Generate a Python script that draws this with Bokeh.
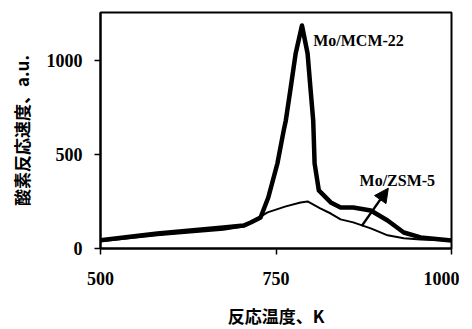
from bokeh.plotting import figure
from bokeh.models import Range1d, FixedTicker, Label, Arrow, NormalHead
from bokeh.embed import file_html
from bokeh.resources import INLINE

# Mo/MCM-22 (thick curve)
mcm_T = [500, 581, 675, 704, 714, 728, 739, 752, 761, 764, 771, 778, 787,
         795, 799, 803, 805, 811, 828, 842, 860, 885, 909, 932, 956, 1000]
mcm_V = [44, 80, 112, 122, 138, 165, 271, 452, 628, 681, 857, 1037, 1186,
         1037, 857, 681, 452, 309, 245, 218, 218, 202, 149, 85, 59, 43]

# Mo/ZSM-5 (thin curve)
zsm_T = [500, 581, 675, 704, 721, 738, 764, 785, 795, 813, 828, 842, 860,
         885, 909, 932, 956, 1000]
zsm_V = [38, 70, 100, 117, 154, 192, 224, 245, 250, 213, 186, 155, 139,
         107, 70, 54, 48, 43]

x_ticks = [500, 750, 1000]
y_ticks = [0, 500, 1000]
arrow_from = (872, 119)
arrow_to = (910, 321)

SERIF = "Liberation Serif"
CJK = "Noto Sans CJK JP"

p = figure(frame_width=351, frame_height=236, output_backend="svg", toolbar_location=None,
           x_range=Range1d(500, 1000), y_range=Range1d(0, 1255),
           min_border_left=100, min_border_right=8, min_border_top=12,
           min_border_bottom=72)

p.line(mcm_T, mcm_V, line_color="black", line_width=4.5, line_join="round")
p.line(zsm_T, zsm_V, line_color="black", line_width=2, line_join="round")

p.grid.visible = False
p.outline_line_color = "black"
p.outline_line_width = 2
p.background_fill_color = "white"
p.border_fill_color = "white"

for ax in (p.xaxis[0], p.yaxis[0]):
    ax.axis_line_color = "black"
    ax.axis_line_width = 2
    ax.major_tick_line_color = "black"
    ax.major_tick_line_width = 1.5
    ax.major_tick_in = 0
    ax.major_tick_out = 6
    ax.minor_tick_line_color = None
    ax.major_label_text_font = SERIF
    ax.major_label_text_font_style = "bold"
    ax.major_label_text_font_size = "18px"
    ax.major_label_text_color = "black"
    ax.axis_label_text_font = CJK
    ax.axis_label_text_font_style = "bold"
    ax.axis_label_text_font_size = "17px"
    ax.axis_label_text_color = "black"

p.xaxis.ticker = FixedTicker(ticks=x_ticks)
p.yaxis.ticker = FixedTicker(ticks=y_ticks)
p.xaxis.major_label_standoff = 17
p.yaxis.major_label_standoff = 12
p.xaxis.axis_label = "反応温度、K"
p.yaxis.axis_label = "酸素反応速度、a.u."
p.xaxis.axis_label_standoff = 15
p.yaxis.axis_label_standoff = 10

p.add_layout(Label(x=803, y=1106, text="Mo/MCM-22", text_font=SERIF,
                   text_font_style="bold", text_font_size="16px",
                   text_baseline="middle", text_align="left", text_color="black"))
p.add_layout(Label(x=869, y=362, text="Mo/ZSM-5", text_font=SERIF,
                   text_font_style="bold", text_font_size="16px",
                   text_baseline="middle", text_align="left", text_color="black"))

p.add_layout(Arrow(end=NormalHead(size=14, fill_color="black", line_color="black"),
                   x_start=arrow_from[0], y_start=arrow_from[1],
                   x_end=arrow_to[0], y_end=arrow_to[1],
                   line_color="black", line_width=2.5))

open("out.html", "w").write(file_html(p, INLINE))
